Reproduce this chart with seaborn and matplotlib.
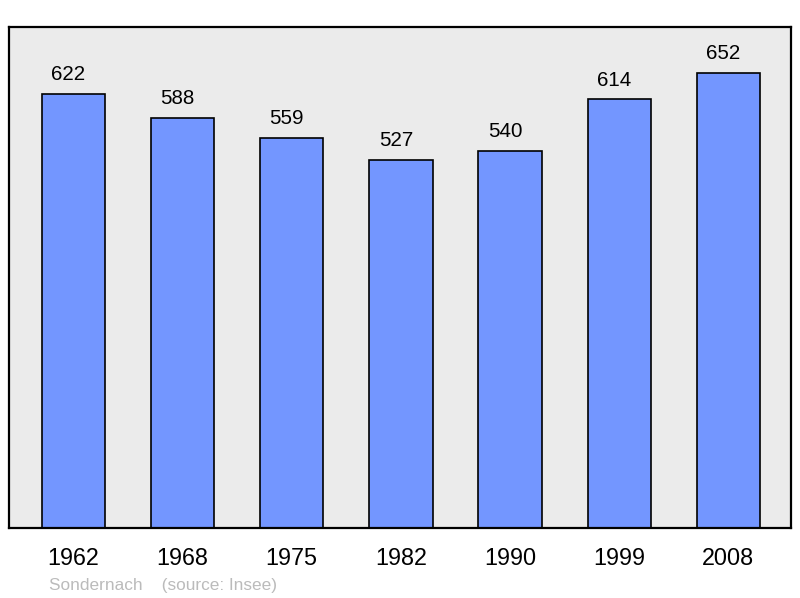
import numpy as np
import pandas as pd
import matplotlib
matplotlib.use("Agg")
import matplotlib.pyplot as plt
import seaborn as sns

# population data
years = ["1962", "1968", "1975", "1982", "1990", "1999", "2008"]
population = [622, 588, 559, 527, 540, 614, 652]

df = pd.DataFrame({"year": years, "pop": population})

sns.set_style("white")
plt.rcParams["font.family"] = ["Liberation Sans", "DejaVu Sans"]

fig = plt.figure(figsize=(8, 5.98), dpi=100)
ax = fig.add_axes([0.01125, 0.117, 0.977, 0.838])
ax.set_facecolor("#ebebeb")

sns.barplot(x="year", y="pop", data=df, color="#7396ff", saturation=1,
            width=0.58, edgecolor="black", linewidth=1.2, ax=ax)

for i, v in enumerate(population):
    ax.annotate(str(v), (i, v), xytext=(-3.5, 10), textcoords="offset points",
                ha="center", va="baseline", fontsize=14.8, color="black")

ax.set_xlim(-0.59, 6.57)
ax.set_ylim(0, 718)
ax.set_yticks([])
ax.set_xlabel("")
ax.set_ylabel("")
ax.tick_params(axis="x", length=0, pad=14, labelsize=16.8, labelcolor="black")
for s in ax.spines.values():
    s.set_color("black")
    s.set_linewidth(1.6)

fig.text(49/800, 8/598, "Sondernach    (source: Insee)", color="#bbbbbb",
         fontsize=12.4, va="baseline")

fig.savefig("out.png", dpi=100)
